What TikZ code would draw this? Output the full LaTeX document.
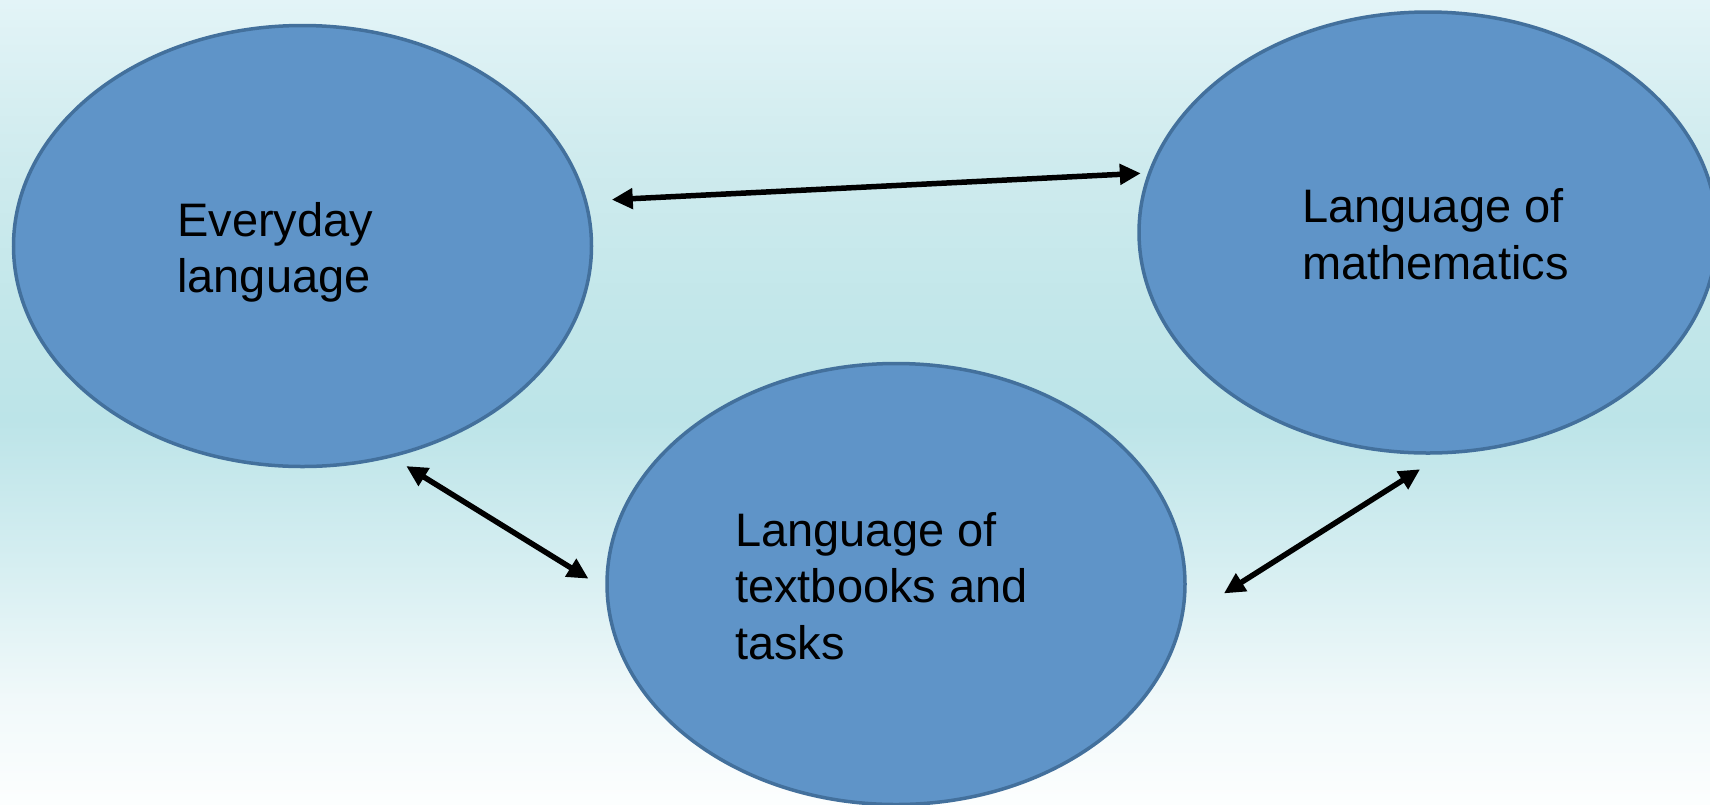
\documentclass[tikz,border=0pt]{standalone}
\usepackage{fontspec}
\setmainfont{Liberation Sans}
\usetikzlibrary{shapes.geometric,arrows.meta}
\definecolor{bg0}{HTML}{FCFEFE}
\definecolor{bg1}{HTML}{F1F9FA}
\definecolor{bg2}{HTML}{D5EEF1}
\definecolor{bg3}{HTML}{BCE4E8}
\definecolor{bg4}{HTML}{C3E7EA}
\definecolor{bg5}{HTML}{CFEBEE}
\definecolor{bg6}{HTML}{E3F4F7}
\definecolor{ellfill}{HTML}{5F94C8}
\definecolor{elldraw}{HTML}{43709C}
\pgfdeclareverticalshading{bgshade}{100bp}{color(0bp)=(bg0); color(25bp)=(bg0);
  color(31.47bp)=(bg1); color(40.17bp)=(bg2); color(48.88bp)=(bg3);
  color(56.34bp)=(bg4); color(65.05bp)=(bg5); color(75bp)=(bg6); color(100bp)=(bg6)}
\tikzset{
  bubble/.style={ellipse, fill=ellfill, draw=elldraw, line width=3.5pt,
    minimum width=578pt, minimum height=441pt, inner sep=0pt},
  bubbletext/.style={anchor=north west, inner sep=0pt, align=left,
    font=\fontsize{47}{56.5}\selectfont, text=black},
  biarrow/.style={line width=5.5pt, draw=black,
    {Triangle[length=21pt,width=20pt]}-{Triangle[length=21pt,width=20pt]}}
}
\begin{document}
\begin{tikzpicture}[x=1pt,y=-1pt]
\useasboundingbox (0,0) rectangle (1710,804);
\clip (0,0) rectangle (1710,804);
\shade[shading=bgshade] (0,0) rectangle (1710,804);

\node[bubble] (everyday) at (302.5,246) {};
\node[bubble] (math) at (1428,232.5) {};
\node[bubble] (tasks) at (896,584) {};

\node[bubbletext] (t-everyday) at (177,202) {Everyday\\language};
\node[bubbletext] (t-math) at (1302,188.5) {Language of\\mathematics};
\node[bubbletext] (t-tasks) at (735,512) {Language of\\textbooks and\\tasks};

\draw[biarrow, shorten <=24.6pt, shorten >=7.1pt] (everyday.9.04) -- (math.168.92);
\draw[biarrow, shorten <=16.5pt, shorten >=19.8pt] (everyday.-67.2) -- (tasks.-179.35);
\draw[biarrow, shorten <=48.3pt, shorten >=27.7pt] (tasks.-7.66) -- (math.-86.57);
\end{tikzpicture}
\end{document}
